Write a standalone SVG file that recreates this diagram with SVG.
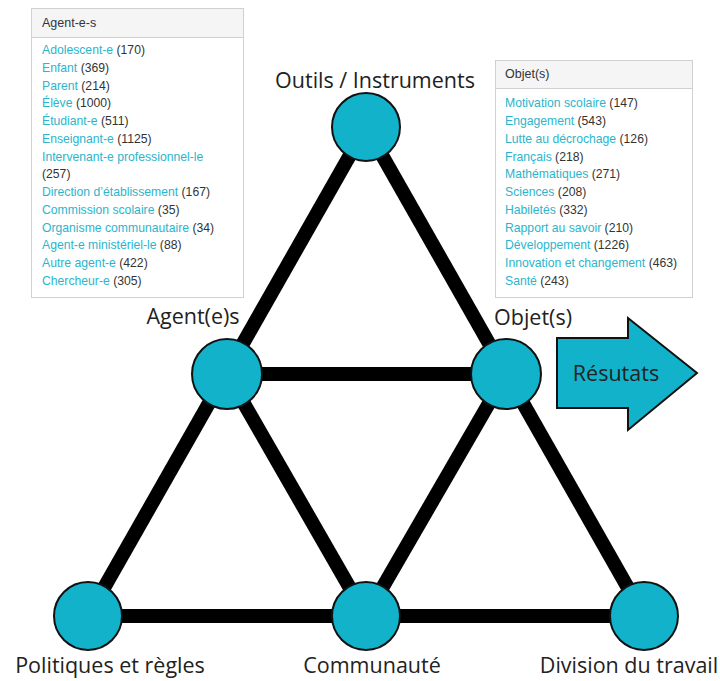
<svg xmlns="http://www.w3.org/2000/svg" width="720" height="681" viewBox="0 0 720 681">
<style>
.node{fill:#12b2ca;stroke:#111;stroke-width:2}
.lbl{font-family:"Open Sans",Lato,sans-serif;font-size:21.5px;fill:#222}
.edge{stroke:#000;stroke-width:14;stroke-linecap:butt}
.panel{fill:#fff;stroke:#d0d0d0;stroke-width:1}
.hdr{fill:#f5f5f5;stroke:#d0d0d0;stroke-width:1}
.ht{font-family:"Liberation Sans",Arial,sans-serif;font-size:12.5px;fill:#333}
.it{font-family:"Liberation Sans",Arial,sans-serif;font-size:12.2px;fill:#333}
.lk{fill:#2bb5cc}
</style>
<rect width="720" height="681" fill="#fff"/>
<g id="connectors">
<line class="edge" x1="366" y1="127" x2="88" y2="616"/>
<line class="edge" x1="366" y1="127" x2="644" y2="616"/>
<line class="edge" x1="227" y1="374" x2="506" y2="374"/>
<line class="edge" x1="88" y1="616" x2="644" y2="616"/>
<line class="edge" x1="227" y1="374" x2="366" y2="616"/>
<line class="edge" x1="506" y1="374" x2="366" y2="616"/>
</g>
<g id="node-outils"><circle class="node" cx="366" cy="127" r="34"/><text class="lbl" x="375" y="88" text-anchor="middle">Outils / Instruments</text></g>
<g id="node-agents"><circle class="node" cx="227" cy="374" r="35"/><text class="lbl" x="193" y="324" text-anchor="middle">Agent(e)s</text></g>
<g id="node-objets"><circle class="node" cx="506" cy="374" r="35"/><text class="lbl" x="533" y="325" text-anchor="middle">Objet(s)</text></g>
<g id="node-politiques"><circle class="node" cx="88" cy="616" r="34"/><text class="lbl" x="110" y="673" text-anchor="middle">Politiques et règles</text></g>
<g id="node-communaute"><circle class="node" cx="366" cy="616" r="34"/><text class="lbl" x="372" y="673" text-anchor="middle">Communauté</text></g>
<g id="node-division"><circle class="node" cx="644" cy="616" r="34"/><text class="lbl" x="629" y="673" text-anchor="middle">Division du travail</text></g>
<g id="resultats">
<polygon class="node" points="557,338 628,338 628,318 697,373 628,430 628,408 557,408"/>
<text class="lbl" x="616" y="381" text-anchor="middle">Résutats</text>
</g>
<g id="panel-agents">
<rect class="panel" x="31.5" y="8.5" width="212" height="289"/>
<rect class="hdr" x="31.5" y="8.5" width="212" height="29"/>
<text class="ht" x="42" y="27">Agent-e-s</text>
<text class="it" x="42" y="54"><tspan class="lk">Adolescent-e</tspan> (170)</text>
<text class="it" x="42" y="72"><tspan class="lk">Enfant</tspan> (369)</text>
<text class="it" x="42" y="90"><tspan class="lk">Parent</tspan> (214)</text>
<text class="it" x="42" y="107"><tspan class="lk">Élève</tspan> (1000)</text>
<text class="it" x="42" y="125"><tspan class="lk">Étudiant-e</tspan> (511)</text>
<text class="it" x="42" y="143"><tspan class="lk">Enseignant-e</tspan> (1125)</text>
<text class="it" x="42" y="161"><tspan class="lk">Intervenant-e professionnel-le</tspan></text>
<text class="it" x="42" y="178">(257)</text>
<text class="it" x="42" y="196"><tspan class="lk">Direction d’établissement</tspan> (167)</text>
<text class="it" x="42" y="214"><tspan class="lk">Commission scolaire</tspan> (35)</text>
<text class="it" x="42" y="232"><tspan class="lk">Organisme communautaire</tspan> (34)</text>
<text class="it" x="42" y="249"><tspan class="lk">Agent-e ministériel-le</tspan> (88)</text>
<text class="it" x="42" y="267"><tspan class="lk">Autre agent-e</tspan> (422)</text>
<text class="it" x="42" y="285"><tspan class="lk">Chercheur-e</tspan> (305)</text>
</g>
<g id="panel-objets">
<rect class="panel" x="495.5" y="60.5" width="197" height="237"/>
<rect class="hdr" x="495.5" y="60.5" width="197" height="28"/>
<text class="ht" x="505" y="78">Objet(s)</text>
<text class="it" x="505" y="107"><tspan class="lk">Motivation scolaire</tspan> (147)</text>
<text class="it" x="505" y="125"><tspan class="lk">Engagement</tspan> (543)</text>
<text class="it" x="505" y="143"><tspan class="lk">Lutte au décrochage</tspan> (126)</text>
<text class="it" x="505" y="161"><tspan class="lk">Français</tspan> (218)</text>
<text class="it" x="505" y="178"><tspan class="lk">Mathématiques</tspan> (271)</text>
<text class="it" x="505" y="196"><tspan class="lk">Sciences</tspan> (208)</text>
<text class="it" x="505" y="214"><tspan class="lk">Habiletés</tspan> (332)</text>
<text class="it" x="505" y="232"><tspan class="lk">Rapport au savoir</tspan> (210)</text>
<text class="it" x="505" y="249"><tspan class="lk">Développement</tspan> (1226)</text>
<text class="it" x="505" y="267"><tspan class="lk">Innovation et changement</tspan> (463)</text>
<text class="it" x="505" y="285"><tspan class="lk">Santé</tspan> (243)</text>
</g>
</svg>
